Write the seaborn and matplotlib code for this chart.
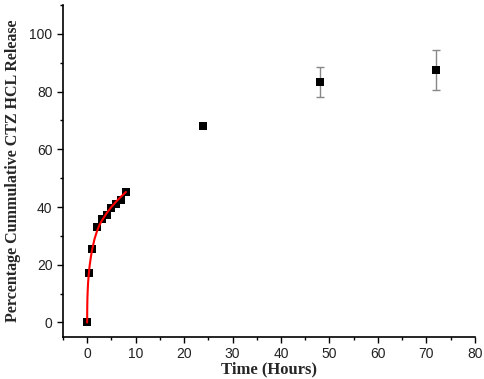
import numpy as np
import pandas as pd
import matplotlib
matplotlib.use("Agg")
import matplotlib.pyplot as plt
import seaborn as sns
from matplotlib.ticker import MultipleLocator

# release data
time_h = [0, 0.35, 1, 2, 3, 4, 5, 6, 7, 8, 24, 48, 72]
release = [0, 17, 25.6, 33, 36, 37.2, 39.5, 41, 42.6, 45.2, 68, 83.2, 87.5]
err_time = [48, 72]
err_mean = [83.2, 87.5]
err_sd = [5.2, 7.0]

# fitted curve over the first 8 hours
fit_t = [0, 0.02, 0.05, 0.1, 0.2, 0.35, 0.5, 0.75, 1, 1.5, 2, 2.5, 3, 4, 5, 6, 7, 8]
fit_y = [0, 5, 8, 10.5, 14, 17, 19.5, 22.5, 25, 28.8, 31.5, 33.6, 35.2, 37.8, 40, 41.9, 43.6, 45.2]

df = pd.DataFrame({"t": time_h, "r": release})
fit = pd.DataFrame({"t": fit_t, "y": fit_y})

sns.set_style("ticks", {"axes.edgecolor": "black", "xtick.color": "black",
                        "ytick.color": "black"})
plt.rcParams["font.family"] = ["Liberation Sans", "DejaVu Sans"]

fig = plt.figure(figsize=(4.84, 3.79), dpi=100)
ax = fig.add_axes([0.130, 0.111, 0.851, 0.876])

ax.errorbar(err_time, err_mean, yerr=err_sd, fmt="none", ecolor="#888888",
            elinewidth=1, capsize=3, capthick=1, zorder=1)
sns.scatterplot(data=df, x="t", y="r", marker="s", s=26, color="black",
                edgecolor="black", linewidth=0, ax=ax, zorder=2)
sns.lineplot(data=fit, x="t", y="y", color="red", linewidth=1.5, ax=ax,
             zorder=3)

ax.set_xlim(-5, 80)
ax.set_ylim(-5, 110)
ax.xaxis.set_major_locator(MultipleLocator(10))
ax.xaxis.set_minor_locator(MultipleLocator(5))
ax.yaxis.set_major_locator(MultipleLocator(20))
ax.yaxis.set_minor_locator(MultipleLocator(10))
ax.tick_params(which="major", length=4, width=1, labelsize=10, direction="out",
               labelcolor="#222222")
ax.tick_params(which="minor", length=2.5, width=1, direction="out")
sns.despine(ax=ax)
for s in ["left", "bottom"]:
    ax.spines[s].set_linewidth(1.2)

ax.set_xlabel("Time (Hours)", family=["Liberation Serif"], fontweight="bold",
              fontsize=12, labelpad=0)
ax.set_ylabel("Percentage Cummulative CTZ HCL Release", family=["Liberation Serif"],
              fontweight="bold", fontsize=11.5, labelpad=6)

fig.savefig("out.png", dpi=100)
